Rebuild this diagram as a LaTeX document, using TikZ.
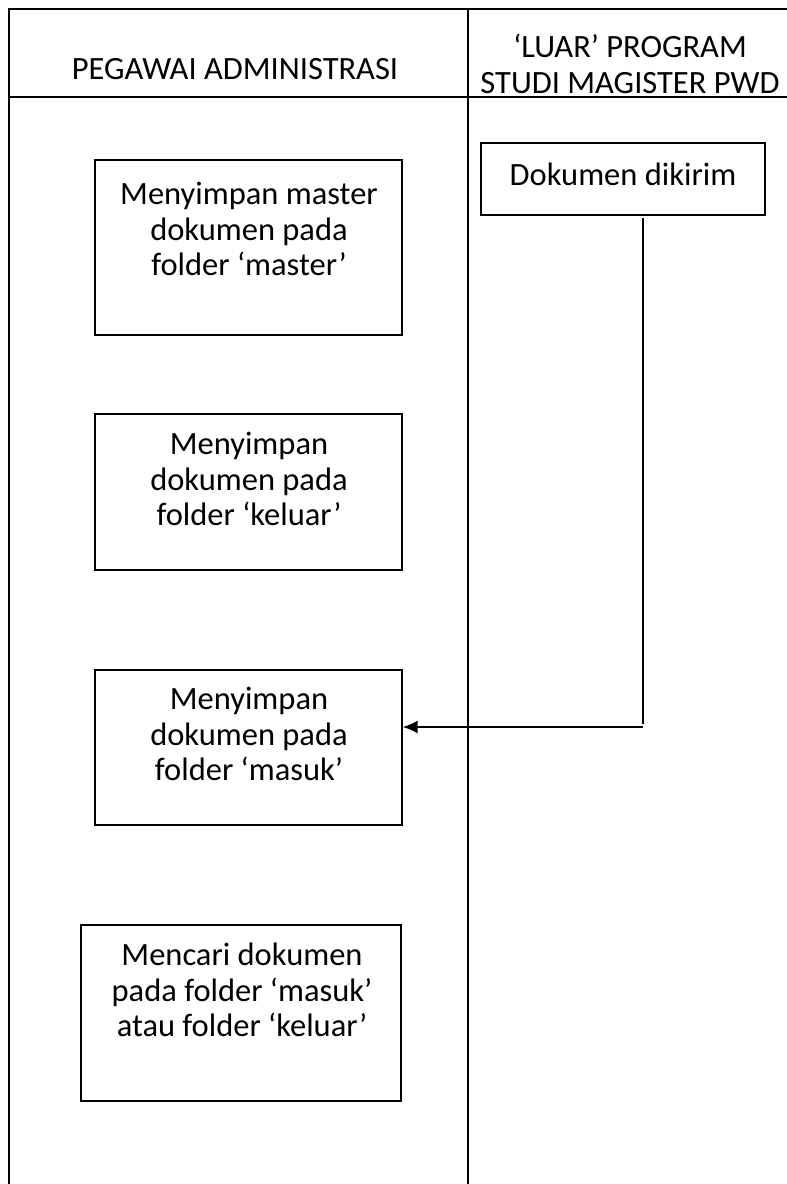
\documentclass[tikz,border=0pt]{standalone}
\usepackage{fontspec}
\setmainfont{Carlito}
\usetikzlibrary{arrows.meta}
\begin{document}
\begin{tikzpicture}[x=1pt,y=-1pt,
  frame/.style={line width=2.2pt},
  box/.style={draw,line width=1.4pt,rectangle,inner sep=0pt},
  txt/.style={align=center,font=\fontsize{32.5}{35.5}\selectfont,inner sep=0pt},
  arr/.style={line width=1.7pt,-{Latex[length=15pt,width=13pt]}}]
\useasboundingbox (0,0) rectangle (787,1184);
\begin{scope}
\clip (0,0) rectangle (787,1184);
% frame
\draw[frame] (9,1190) -- (9,9) -- (795,9);
\draw[frame] (9,97) -- (795,97);
\draw[frame] (468,9) -- (468,1190);
\end{scope}
% headers
\node[txt] (h1) at (235,69) {PEGAWAI ADMINISTRASI};
\node[txt] (h2) at (630,64) {‘LUAR’ PROGRAM\\STUDI MAGISTER PWD};
% boxes
\node[box,minimum width=307,minimum height=175] (b1) at (248.5,247.5) {};
\node[txt] (t1) at (249,229) {Menyimpan master\\dokumen pada\\folder ‘master’};
\node[box,minimum width=307,minimum height=156] (b2) at (248.5,492) {};
\node[txt] (t2) at (249,479) {Menyimpan\\dokumen pada\\folder ‘keluar’};
\node[box,minimum width=307,minimum height=155] (b3) at (248.5,747.5) {};
\node[txt] (t3) at (249,734) {Menyimpan\\dokumen pada\\folder ‘masuk’};
\node[box,minimum width=320,minimum height=176] (b4) at (241,1013) {};
\node[txt] (t4) at (242,990) {Mencari dokumen\\pada folder ‘masuk’\\atau folder ‘keluar’};
\node[box,minimum width=284,minimum height=72] (dk) at (623,179) {};
\node[txt] (tdk) at (623,174) {Dokumen dikirim};
% connector
\coordinate (c1) at (643,218);
\coordinate (c2) at (643,727);
\draw[line width=1.7pt] (c1) -- ([yshift=3pt]c2);
\draw[arr] (c2) -- (b3.east |- c2);
\end{tikzpicture}
\end{document}
